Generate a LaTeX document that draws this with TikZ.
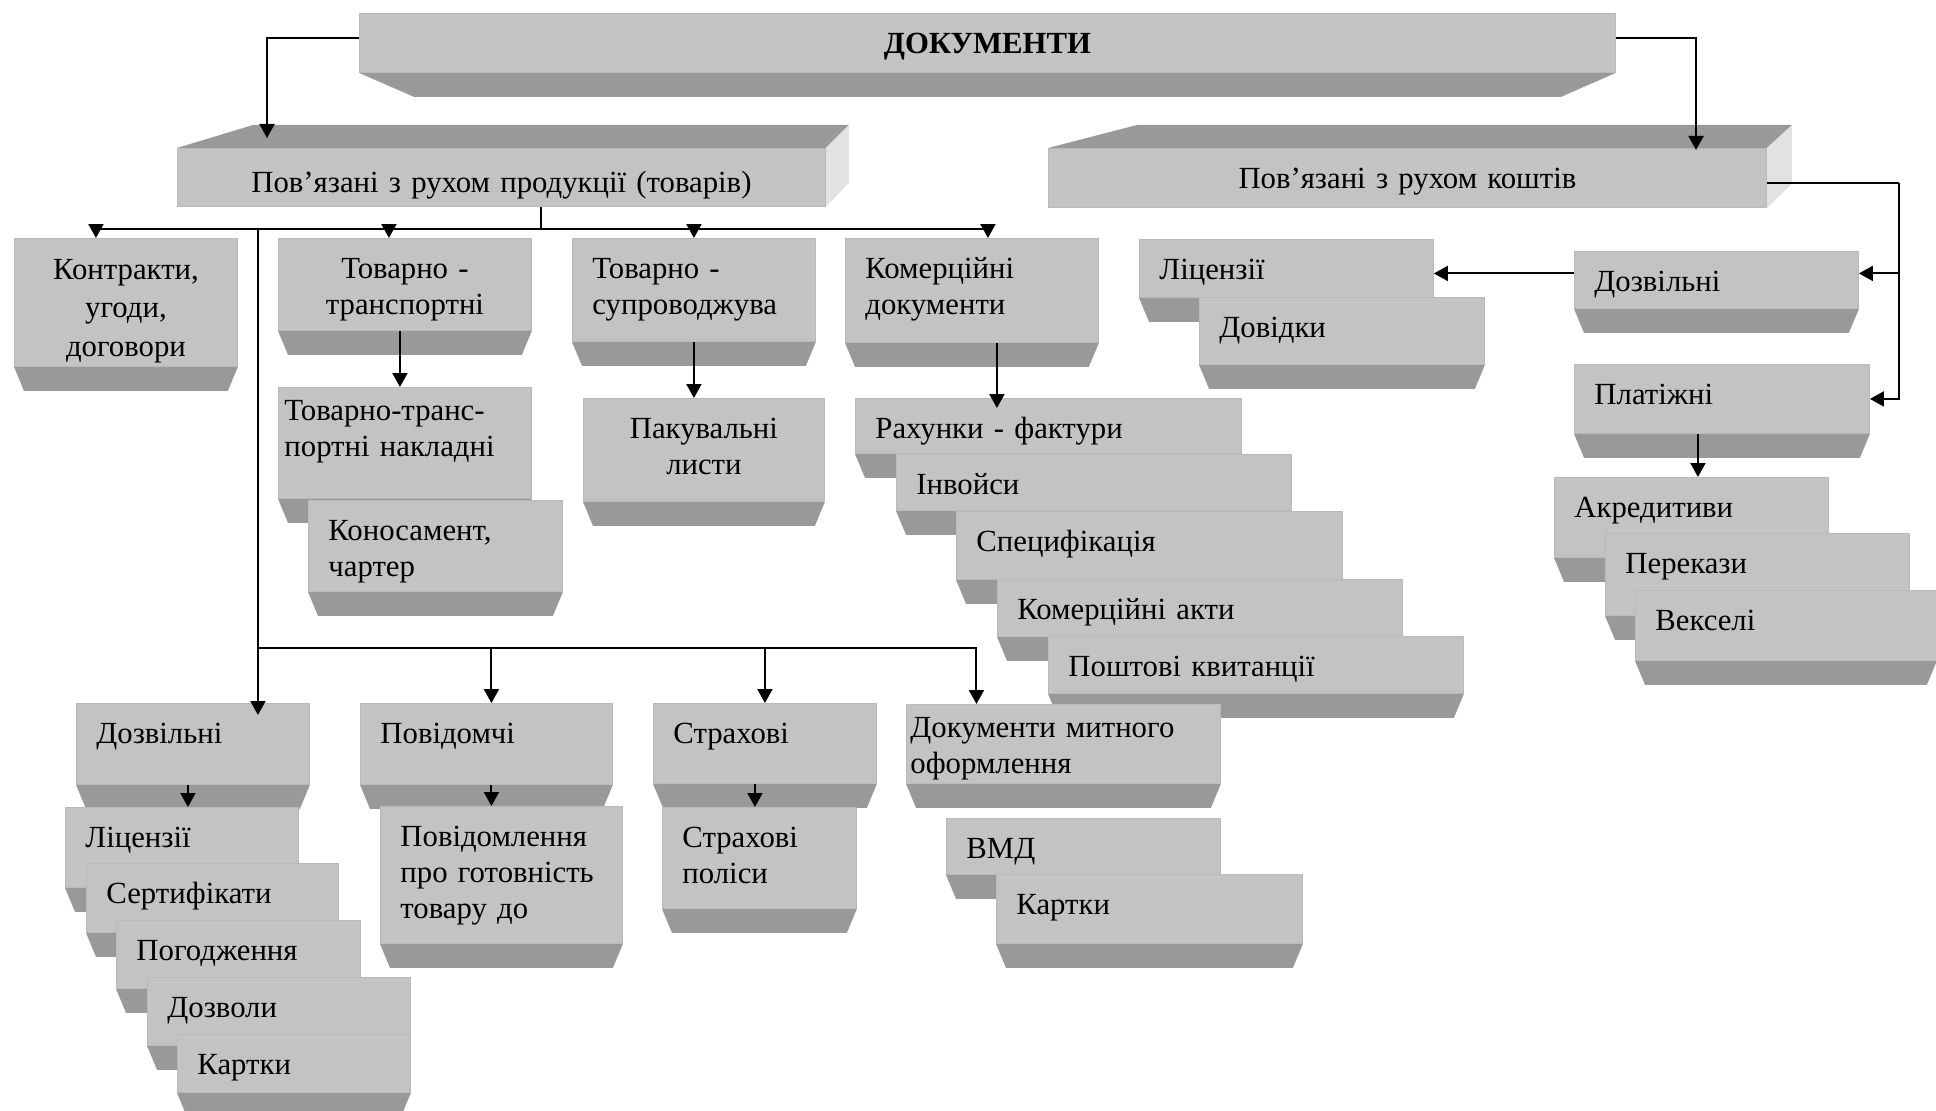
\documentclass[tikz,border=0pt]{standalone}
\usepackage{fontspec}
\setmainfont{Liberation Serif}
\usepackage{tikz}
\usetikzlibrary{arrows.meta, calc}

\definecolor{boxfront}{HTML}{C3C3C3}
\definecolor{boxlow}{HTML}{999999}
\definecolor{boxside}{HTML}{E2E2E2}
\definecolor{boxedge}{HTML}{B9B9B9}

\newdimen\pxu \pxu=0.02cm
\newcommand{\boxfont}{\fontsize{17.5}{20.5}\selectfont}

\tikzstyle{link} = [line width=1.1pt]
\tikzstyle{arrow} = [line width=1.1pt, -{Triangle[length=0.28cm, width=0.3cm]}]

\tikzset{
  face/.style 2 args={rectangle, anchor=north west, fill=boxfront, draw=boxedge, line width=0.5pt,
    inner sep=0pt, font=\boxfont, align=left, minimum width=#1*0.02cm, text width=#1*0.02cm,
    text height=0.8cm, text depth=#2*0.02cm-0.8cm},
  lpad/.style={execute at begin node={\leftskip=#1\pxu\relax}},
  lowside/.style={append after command={\pgfextra{\begin{pgfinterruptpath}
      \fill[boxlow] (\tikzlastnode.south west) -- (\tikzlastnode.south east) -- ++(-#1,24)
        -- ($(\tikzlastnode.south west)+(#1,24)$) -- cycle;
    \end{pgfinterruptpath}}}},
  topside/.style 2 args={append after command={\pgfextra{\begin{pgfinterruptpath}
      \fill[boxlow] (\tikzlastnode.north west) -- ++(#1,-23)
        -- ($(\tikzlastnode.north east)+(#2,-23)$) -- (\tikzlastnode.north east) -- cycle;
      \fill[boxside] (\tikzlastnode.north east) -- ++(#2,-23)
        -- ($(\tikzlastnode.south east)+(#2,-24)$) -- (\tikzlastnode.south east) -- cycle;
    \end{pgfinterruptpath}}}},
  docbox/.style 2 args={face={#1}{#2}, lowside=10, lpad=20},
  cbox/.style 2 args={face={#1}{#2}, lowside=10, align=center}
}

\begin{document}
\begin{tikzpicture}[x=0.02cm, y=-0.02cm]
  \useasboundingbox (0,0) rectangle (1936,1111);

  % top level
  \node (doc) [face={1256}{59}, lowside=55, align=center, font=\boxfont\bfseries] at (359,13) {ДОКУМЕНТИ};
  \node (prod) [face={648}{58}, topside={76}{23}, align=center, text height=0.88cm, text depth=0.28cm] at (177,148) {Пов’язані з рухом продукції (товарів)};
  \node (fund) [face={718}{59}, topside={89}{25}, align=center] at (1048,148) {Пов’язані з рухом коштів};

  % goods
  \node (contr) [cbox={223}{128}, font=\fontsize{17.5}{21.8}\selectfont, text height=0.82cm, text depth=1.74cm] at (14,238) {Контракти,\\угоди,\\договори};
  \node (tt) [cbox={253}{92}] at (278,238) {Товарно -\\транспортні};
  \node (ts) [docbox={243}{103}] at (572,238) {Товарно -\\супроводжува};
  \node (com) [docbox={253}{104}] at (845,238) {Комерційні\\документи};
  \node (ttn) [docbox={253}{111}, lpad=6, text height=0.66cm, text depth=1.56cm] at (278,387) {Товарно-транс-\\портні накладні};
  \node (kon) [docbox={254}{91}] at (308,500) {Коносамент,\\чартер};
  \node (pak) [cbox={241}{103}] at (583,398) {Пакувальні\\листи};
  \node (rah) [docbox={386}{55}] at (855,398) {Рахунки - фактури};
  \node (inv) [docbox={395}{56}] at (896,454) {Інвойси};
  \node (spec) [docbox={386}{68}] at (956,511) {Специфікація};
  \node (akt) [docbox={405}{57}] at (997,579) {Комерційні акти};
  \node (post) [docbox={415}{57}] at (1048,636) {Поштові квитанції};

  % funds
  \node (lic2) [docbox={294}{58}] at (1139,239) {Ліцензії};
  \node (dov) [docbox={285}{67}] at (1199,297) {Довідки};
  \node (dozv2) [docbox={284}{57}] at (1574,251) {Дозвільні};
  \node (plat) [docbox={295}{69}] at (1574,364) {Платіжні};
  \node (akr) [docbox={274}{80}] at (1554,477) {Акредитиви};
  \node (per) [docbox={304}{82}] at (1605,533) {Перекази};
  \node (veks) [docbox={301}{70}] at (1635,590) {Векселі};

  % lower row
  \node (dozv) [docbox={233}{81}] at (76,703) {Дозвільні};
  \node (lic) [docbox={233}{80}] at (65,807) {Ліцензії};
  \node (sert) [docbox={252}{69}] at (86,863) {Сертифікати};
  \node (pog) [docbox={244}{68}] at (116,920) {Погодження};
  \node (dozvoly) [docbox={263}{68}] at (147,977) {Дозволи};
  \node (kart) [docbox={233}{58}] at (177,1034) {Картки};
  \node (pov) [docbox={252}{81}] at (360,703) {Повідомчі};
  \node (povid) [docbox={242}{137}] at (380,806) {Повідомлення\\про готовність\\товару до};
  \node (strah) [docbox={223}{80}] at (653,703) {Страхові};
  \node (strp) [docbox={194}{101}] at (662,807) {Страхові\\поліси};
  \node (mit) [docbox={314}{79}, lpad=4, text height=0.66cm, text depth=0.92cm] at (906,704) {Документи митного\\оформлення};
  \node (vmd) [docbox={274}{56}] at (946,818) {ВМД};
  \node (kart2) [docbox={306}{69}] at (996,874) {Картки};

  % connectors
  \draw [arrow] ([yshift=0.1cm]doc.west) -| ($(prod.north west)+(90,-10)$);
  \draw [arrow] ([yshift=0.1cm]doc.east) -| ($(fund.north west)+(648,2)$);

  \coordinate (bus) at ($(prod.south west)+(364,22)$);
  \draw [link] ($(prod.south west)+(364,0)$) -- (bus);
  \draw [arrow] (bus) -| ($(contr.north)+(-30,0)$);
  \draw [arrow] (bus) -| ($(tt.north)+(-16,0)$);
  \draw [arrow] (bus) -| (ts.north);
  \draw [arrow] (bus) -| ($(com.north)+(16,0)$);

  \coordinate (fork) at ($(dozv.north)+(65,-55)$);
  \draw [arrow, shorten >=-0.24cm] (fork |- bus) -- (fork |- dozv.north);
  \draw [arrow] (fork) -| ($(pov.north)+(5,0)$);
  \draw [arrow] (fork) -| (strah.north);
  \draw [arrow] (fork) -| ($(mit.north)+(-87,0)$);

  \foreach \a/\b/\dx in {tt/ttn/-5, ts/pak/0, plat/akr/-24, dozv/lic/-5, pov/povid/5, strah/strp/-10}
    \draw [arrow] ($(\a.south)+(\dx,0)$) coordinate (t) -- (t |- \b.north);
  \draw [arrow, shorten >=-0.2cm] ($(com.south)+(25,0)$) coordinate (t) -- (t |- rah.north);

  \coordinate (fr) at ($(fund.east)+(132,5)$);
  \draw [link] (fund.east |- fr) -- (fr);
  \draw [arrow] (fr) |- ([yshift=0.13cm]dozv2.east);
  \draw [arrow] (fr) |- (plat.east);
  \draw [arrow] ([yshift=0.13cm]dozv2.west) coordinate (t) -- (t -| lic2.east);

\end{tikzpicture}
\end{document}
